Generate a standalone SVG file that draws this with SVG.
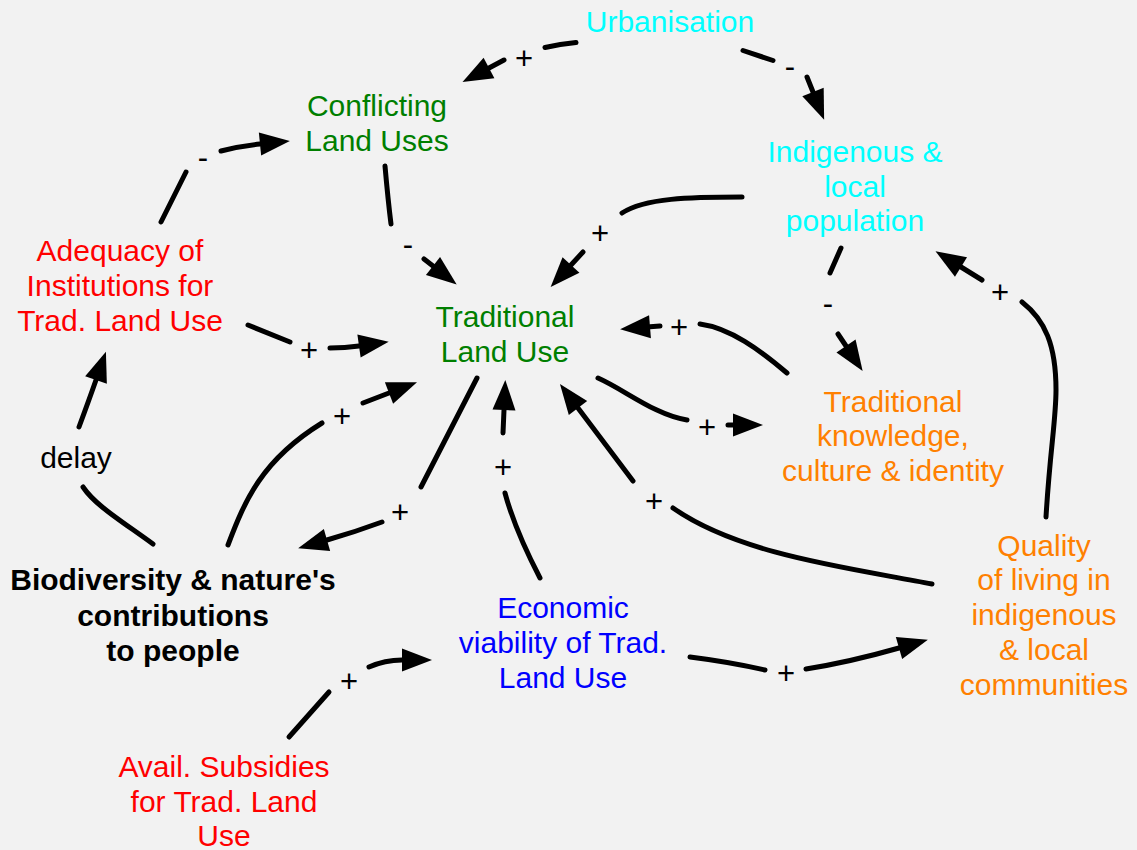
<svg xmlns="http://www.w3.org/2000/svg" width="1137" height="850" viewBox="0 0 1137 850">
<style>
.n{font-family:"Liberation Sans",Arial,Helvetica,sans-serif;font-size:30px;text-anchor:middle}
.b{font-weight:bold;fill:#000}
.cy{fill:#00ffff}.gr{fill:#007f00}.rd{fill:#ff0000}.or{fill:#ff8000}.bl{fill:#0000ff}.bk{fill:#000}
.e{fill:none;stroke:#000;stroke-width:5;stroke-linecap:round;stroke-linejoin:round;marker-end:url(#ah)}
.l{font-family:"Liberation Sans",Arial,Helvetica,sans-serif;font-size:31px;text-anchor:middle;fill:#000}
</style>
<defs>
<marker id="ah" markerUnits="userSpaceOnUse" markerWidth="32" markerHeight="24" viewBox="0 -12 32 24" refX="0" refY="0" orient="auto" overflow="visible">
<path d="M0,-11.5 L30,0 L0,11.5 z" fill="#000"/>
</marker>
</defs>
<rect width="1137" height="850" fill="#f2f2f2"/>
<g id="connectors">
<path class="e" d="M576,42.5 Q560,44 545,47.5 M504,60 L489,68"/>
<path class="e" d="M743,50.5 L773,60.5 M807,77 L813,92"/>
<path class="e" d="M161,222 L186,172 M221,151 Q240,146 260,144"/>
<path class="e" d="M385,166 Q388,200 391,224 M424,259 L433,266"/>
<path class="e" d="M742,197 C690,197 645,198 622,213 M583,252 L571,265"/>
<path class="e" d="M841,248 L830,273 M838,334 L846,346"/>
<path class="e" d="M248,325 L290,342 M330,348 Q345,348 359,346"/>
<path class="e" d="M228,545 C245,500 262,460 322,423 M363,403 L389,393"/>
<path class="e" d="M477,378 L421,487 M382,522 Q355,532 327,540"/>
<path class="e" d="M540,578 Q515,530 505,493 M503,433 L504,410"/>
<path class="e" d="M932,584 C850,568 740,555 673,508 M633,481 L578,408"/>
<path class="e" d="M787,373 C760,350 730,328 700,324 M660,326 L650,326.8"/>
<path class="e" d="M598,378 C625,390 655,415 687,420 M728,425 L733,425"/>
<path class="e" d="M1046,517 C1050,450 1056,420 1056,390 C1056,345 1045,320 1022,302 M982,280 L961,267"/>
<path class="e" d="M153,544 C120,520 95,505 83,487 M79,427 Q89,400 96,380"/>
<path class="e" d="M289,737 L329,692 M369,667 Q385,660 402,660"/>
<path class="e" d="M690,657 Q730,662 765,670 M806,669 Q850,662 899,648"/>
<text class="l" x="524" y="68.5">+</text>
<text class="l" x="790" y="76.5">-</text>
<text class="l" x="203" y="167.5">-</text>
<text class="l" x="408" y="254.5">-</text>
<text class="l" x="600" y="243.5">+</text>
<text class="l" x="828" y="313.5">-</text>
<text class="l" x="679" y="337.5">+</text>
<text class="l" x="309" y="360.5">+</text>
<text class="l" x="342" y="426.5">+</text>
<text class="l" x="400" y="522.5">+</text>
<text class="l" x="503" y="477.5">+</text>
<text class="l" x="707" y="437.5">+</text>
<text class="l" x="654" y="511.5">+</text>
<text class="l" x="1000" y="302.5">+</text>
<text class="l" x="349" y="691.5">+</text>
<text class="l" x="786" y="683.5">+</text>
<text class="n bk" x="76" y="468">delay</text>
</g>
<g id="urbanisation"><text class="n cy" x="670" y="32">Urbanisation</text></g>
<g id="conflicting-land-uses"><text class="n gr"><tspan x="377" y="116">Conflicting</tspan><tspan x="377" y="151">Land Uses</tspan></text></g>
<g id="indigenous-population"><text class="n cy"><tspan x="855" y="162">Indigenous &amp;</tspan><tspan x="855" y="197">local</tspan><tspan x="855" y="231">population</tspan></text></g>
<g id="adequacy-institutions"><text class="n rd"><tspan x="120" y="261">Adequacy of</tspan><tspan x="120" y="296">Institutions for</tspan><tspan x="120" y="331">Trad. Land Use</tspan></text></g>
<g id="traditional-land-use"><text class="n gr"><tspan x="505" y="327">Traditional</tspan><tspan x="505" y="362">Land Use</tspan></text></g>
<g id="traditional-knowledge"><text class="n or"><tspan x="893" y="412">Traditional</tspan><tspan x="893" y="446">knowledge,</tspan><tspan x="893" y="481">culture &amp; identity</tspan></text></g>
<g id="quality-of-living"><text class="n or"><tspan x="1044" y="556">Quality</tspan><tspan x="1044" y="590">of living in</tspan><tspan x="1044" y="625">indigenous</tspan><tspan x="1044" y="660">&amp; local</tspan><tspan x="1044" y="695">communities</tspan></text></g>
<g id="biodiversity"><text class="n b"><tspan x="173" y="590">Biodiversity &amp; nature's</tspan><tspan x="173" y="626">contributions</tspan><tspan x="173" y="661">to people</tspan></text></g>
<g id="economic-viability"><text class="n bl"><tspan x="563" y="618">Economic</tspan><tspan x="563" y="653">viability of Trad.</tspan><tspan x="563" y="688">Land Use</tspan></text></g>
<g id="avail-subsidies"><text class="n rd"><tspan x="224" y="777">Avail. Subsidies</tspan><tspan x="224" y="812">for Trad. Land</tspan><tspan x="224" y="846">Use</tspan></text></g>
</svg>
